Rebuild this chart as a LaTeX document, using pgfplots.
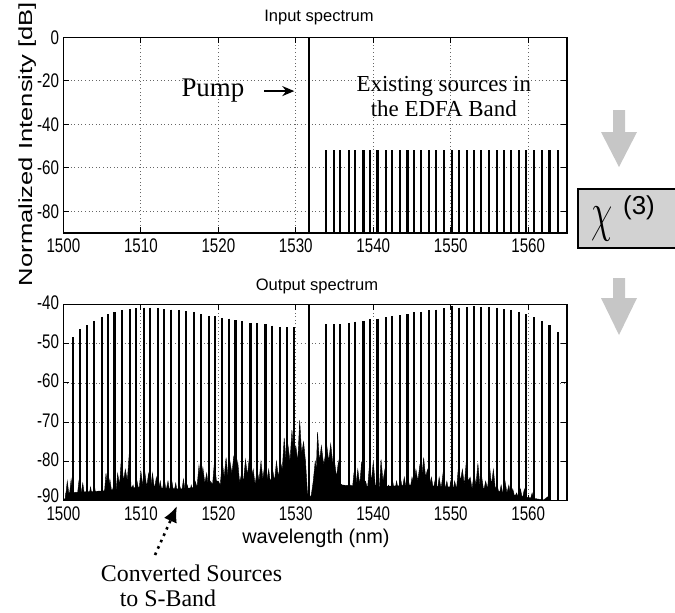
\documentclass[border=0pt]{standalone}
\usepackage{fontspec}
\setmainfont{Liberation Serif}
\newfontfamily\arial{Liberation Sans}
\usepackage{graphicx}
\usepackage{pgfplots}
\usepackage{pgfplotstable}
\pgfplotsset{compat=1.18}
\usetikzlibrary{arrows.meta}

% input spectrum: WDM sources in the EDFA band
\pgfplotstableread{
x y
1533.86 -52
1534.89 -52
1535.67 -52
1536.87 -52
1537.65 -52
1538.73 -52
1539.55 -52
1540.54 -52
1541.62 -52
1542.39 -52
1543.47 -52
1544.42 -52
1545.20 -52
1546.15 -52
1547.22 -52
1548.09 -52
1549.08 -52
1550.12 -52
1551.10 -52
1552.10 -52
1553.04 -52
1553.91 -52
1554.98 -52
1555.94 -52
1556.84 -52
1557.79 -52
1558.86 -52
1559.73 -52
1560.80 -52
1561.76 -52
1562.74 -52
1563.83 -52
}\insig

% output spectrum: converted sources (S-band)
\pgfplotstableread{
x y
1501.21 -48.4
1502.16 -46.3
1503.02 -45.3
1503.97 -44.2
1504.96 -43.1
1505.74 -42.5
1506.60 -42.0
1507.55 -41.4
1508.63 -41.2
1509.40 -41.0
1510.35 -40.8
1511.22 -40.8
1512.16 -41.0
1513.03 -41.2
1513.93 -41.3
1514.88 -41.4
1515.87 -41.7
1516.82 -41.9
1517.81 -42.5
1518.76 -42.9
1519.54 -42.9
1520.49 -43.4
1521.35 -43.6
1522.21 -44.0
1523.07 -44.2
1524.15 -44.7
1525.02 -44.8
1526.09 -45.1
1526.96 -45.4
1527.95 -45.7
1528.81 -45.8
1529.76 -45.8
}\outidl

% output spectrum: original sources
\pgfplotstableread{
x y
1533.86 -45.0
1534.89 -45.0
1535.67 -45.0
1536.87 -44.7
1537.65 -44.4
1538.73 -44.2
1539.55 -43.8
1540.54 -43.6
1541.62 -43.3
1542.39 -42.9
1543.47 -42.7
1544.42 -42.5
1545.20 -42.0
1546.15 -41.9
1547.22 -41.5
1548.09 -41.3
1549.08 -41.0
1550.12 -40.3
1551.10 -40.8
1552.10 -40.6
1553.04 -40.4
1553.91 -40.6
1554.98 -40.6
1555.94 -40.8
1556.84 -41.2
1557.79 -41.4
1558.86 -41.9
1559.73 -42.5
1560.80 -43.3
1561.76 -44.2
1562.74 -45.3
1563.83 -47.0
}\outsig

\pgfplotsset{
  spec/.style={
    scale only axis, width=251.8bp,
    xmin=1500, xmax=1565, xtick={1500,1510,...,1560},
    grid=major,
    major grid style={black!60, dash pattern=on 0.5bp off 1.3bp, line width=0.4bp},
    axis line style={line width=0.6bp},
    every tick/.style={black, line width=0.5bp},
    major tick length=3bp,
    tick label style={font=\arial\fontsize{7.6}{8}\selectfont},
    /pgf/number format/1000 sep={},
    /pgf/number format/assume math mode=true,
    xticklabel={\scalebox{1}[1.3]{\pgfmathprintnumber{\tick}}},
    yticklabel={\scalebox{1}[1.3]{\pgfmathprintnumber{\tick}}},
    xticklabel style={anchor=north, inner sep=0pt, yshift=-2.5bp},
    yticklabel style={anchor=east, inner sep=0pt, xshift=-2bp},
    clip=true,
  },
  comb/.style={draw=none, no markers,
    error bars/.cd, y dir=minus, y fixed=100, error mark=none,
    error bar style={draw=black, line width=1.05bp, solid}},
}

\begin{document}
\begin{tikzpicture}
\useasboundingbox (0,0) rectangle (337.5bp,-306.5bp);

% ---------- input spectrum ----------
\begin{axis}[spec, at={(31.7bp,-116.5bp)}, anchor=south west,
  height=97.8bp, ymin=-90, ymax=0, ytick={-80,-60,-40,-20,0}]
\addplot[comb] coordinates {(1531.75,0)};
\addplot[comb] table[x=x,y=y] {\insig};
\node[font=\fontsize{13.5}{14}\selectfont, anchor=base] at (axis cs:1519.3,-27) {Pump};
\draw[line width=0.8bp, -{Stealth[length=6bp,width=5bp]}] (axis cs:1525.9,-24.7) -- (axis cs:1529.8,-24.7);
\node[font=\fontsize{11.5}{12}\selectfont, anchor=base] at (axis cs:1549.1,-24.7) {Existing sources in};
\node[font=\fontsize{11.5}{12}\selectfont, anchor=base] at (axis cs:1549.1,-36.3) {the EDFA Band};
\end{axis}

% ---------- output spectrum ----------
\begin{axis}[spec, at={(31.7bp,-250.4bp)}, anchor=south west,
  height=98.2bp, ymin=-90, ymax=-40, ytick={-90,-80,...,-40},
  yticklabels={{\scalebox{1}[1.3]{\raisebox{2.5bp}{-90}}},
               {\scalebox{1}[1.3]{-80}},{\scalebox{1}[1.3]{-70}},
               {\scalebox{1}[1.3]{-60}},{\scalebox{1}[1.3]{-50}},
               {\scalebox{1}[1.3]{-40}}},
  yticklabel style={yshift=1bp},
  xticklabel style={yshift=-0.5bp}]
% dense noise floor
\addplot[fill=black, draw=black, line width=0.2bp] coordinates {
(1500.3,-95)(1500.3,-88)(1505,-87.5)(1510,-86.5)(1515,-87)(1520,-86)(1525,-85.5)(1528,-84)
(1531,-82)(1531.4,-89)(1532.2,-89)(1533,-82)(1536,-86)(1540,-86.5)(1545,-86)(1550,-86.5)
(1555,-87)(1558,-88.5)(1561,-89.5)(1563,-90)(1563,-95)
} -- cycle;
% noise spikes
\addplot[fill=black, draw=black, line width=0.2bp] coordinates {
(1500.0,-95)(1500.0,-89.5)(1500.25,-89.5)(1500.5,-85)(1500.75,-89)(1501.0,-84.5)(1501.25,-89)(1501.5,-88)(1501.75,-89.5)
(1502.0,-85)(1502.25,-88.5)(1502.5,-85.5)(1502.75,-89)(1503.0,-87)(1503.25,-89.5)(1503.5,-86.5)(1503.75,-89)
(1504.0,-86)(1504.25,-89.5)(1504.5,-88.5)(1504.75,-89.5)(1505.0,-87)(1505.25,-89)(1505.5,-83)(1505.75,-87.5)
(1506.0,-84.5)(1506.25,-88)(1506.5,-86)(1506.75,-88.5)(1507.0,-83)(1507.25,-86)(1507.5,-78.5)(1507.75,-85)
(1508.0,-82)(1508.25,-85)(1508.5,-78)(1508.75,-87)(1509.0,-86)(1509.25,-89)(1509.5,-85)(1509.75,-87.5)
(1510.0,-82.5)(1510.25,-86)(1510.5,-82.5)(1510.75,-86.5)(1511.0,-83)(1511.25,-87)(1511.5,-83)(1511.75,-87)
(1512.0,-84)(1512.25,-87.5)(1512.5,-85)(1512.75,-88)(1513.0,-84)(1513.25,-87.5)(1513.5,-85)(1513.75,-88)
(1514.0,-85)(1514.25,-88)(1514.5,-85.5)(1514.75,-88.5)(1515.0,-86)(1515.25,-88)(1515.5,-84.5)(1515.75,-88)
(1516.0,-86)(1516.25,-88.5)(1516.5,-86)(1516.75,-88)(1517.0,-85)(1517.25,-86.5)(1517.5,-81)(1517.75,-85)
(1518.0,-81.5)(1518.25,-85.5)(1518.5,-83)(1518.75,-87)(1519.0,-85)(1519.25,-86)(1519.5,-80)(1519.75,-85)
(1520.0,-85)(1520.25,-86)(1520.5,-80)(1520.75,-84)(1521.0,-79)(1521.25,-84)(1521.5,-80)(1521.75,-83)
(1522.0,-78.5)(1522.25,-84)(1522.5,-80)(1522.75,-85.5)(1523.0,-83)(1523.25,-85)(1523.5,-79.5)(1523.75,-83.5)
(1524.0,-79)(1524.25,-84)(1524.5,-82)(1524.75,-86)(1525.0,-82)(1525.25,-85)(1525.5,-80)(1525.75,-84.5)
(1526.0,-80.5)(1526.25,-85)(1526.5,-82)(1526.75,-86)(1527.0,-82)(1527.25,-85)(1527.5,-80)(1527.75,-84)
(1528.0,-80)(1528.25,-82)(1528.5,-74)(1528.75,-80)(1529.0,-76)(1529.25,-80)(1529.5,-72)(1529.75,-79)
(1530.0,-76)(1530.25,-80)(1530.5,-69.5)(1530.75,-78)(1531.0,-75)(1531.25,-80)(1531.5,-88)(1531.75,-89.5)
(1532.0,-88.5)(1532.25,-85)(1532.5,-80)(1532.65,-82)(1532.8,-72.5)(1533.05,-80)(1533.3,-76)(1533.6,-81)
(1534.0,-76)(1534.25,-80)(1534.5,-75.5)(1534.75,-80)(1535.0,-80)(1535.25,-84)(1535.5,-80)(1535.75,-86)
(1536.0,-86)(1536.25,-89)(1536.5,-88)(1536.75,-89)(1537.0,-86)(1537.25,-88)(1537.5,-83)(1537.75,-86)
(1538.0,-82)(1538.25,-86)(1538.5,-80)(1538.75,-85)(1539.0,-85)(1539.25,-87)(1539.5,-81)(1539.75,-85)
(1540.0,-80)(1540.25,-86)(1540.5,-86)(1540.75,-88)(1541.0,-79.5)(1541.25,-85)(1541.5,-82)(1541.75,-86.5)
(1542.0,-86)(1542.25,-88)(1542.5,-85)(1542.75,-88)(1543.0,-85)(1543.25,-87.5)(1543.5,-84)(1543.75,-87)
(1544.0,-84)(1544.25,-87)(1544.5,-84.5)(1544.75,-87)(1545.0,-84)(1545.25,-86)(1545.5,-82)(1545.75,-85)
(1546.0,-81)(1546.25,-84)(1546.5,-79)(1546.75,-84)(1547.0,-82)(1547.25,-86)(1547.5,-84)(1547.75,-87)
(1548.0,-84.5)(1548.25,-87.5)(1548.5,-84)(1548.75,-87)(1549.0,-83)(1549.25,-87)(1549.5,-85)(1549.75,-88)
(1550.0,-85)(1550.25,-88)(1550.5,-85)(1550.75,-87)(1551.0,-81)(1551.25,-85)(1551.5,-82)(1551.75,-86)
(1552.0,-80)(1552.25,-85)(1552.5,-84)(1552.75,-87)(1553.0,-83)(1553.25,-86)(1553.5,-80.5)(1553.75,-86)
(1554.0,-84)(1554.25,-87.5)(1554.5,-85)(1554.75,-87)(1555.0,-81)(1555.25,-86)(1555.5,-82)(1555.75,-87)
(1556.0,-86)(1556.25,-88.5)(1556.5,-86)(1556.75,-88.5)(1557.0,-85)(1557.25,-88)(1557.5,-86)(1557.75,-89)
(1558.0,-87)(1558.25,-89)(1558.5,-88)(1558.75,-89.5)(1559.0,-87)(1559.25,-89.5)(1559.5,-87)(1559.75,-89.5)
(1560.0,-89.5)(1560.25,-89.8)(1560.5,-88)(1560.75,-89.8)(1561.0,-89.5)(1561.5,-89.8)(1562.0,-89.8)(1562.5,-89)
(1562.75,-89.8)(1563.0,-90)(1563.0,-95)
} -- cycle;
\addplot[comb] coordinates {(1531.75,0)};
\addplot[comb] table[x=x,y=y] {\outidl};
\addplot[comb] table[x=x,y=y] {\outsig};
\end{axis}

% ---------- titles and labels ----------
\node[font=\arial\fontsize{8.3}{9}\selectfont] at (159.5bp,-8.75bp) {Input spectrum};
\node[font=\arial\fontsize{8.3}{9}\selectfont] at (158.5bp,-143bp) {Output spectrum};
\node[font=\arial\fontsize{9.5}{10}\selectfont, rotate=90, anchor=base] at (16bp,-72bp)
  {\scalebox{1.35}[1]{Normalized Intensity [dB]}};
\node[font=\arial\fontsize{10}{11}\selectfont] at (158bp,-269bp) {wavelength (nm)};

% ---------- annotation ----------
\node[font=\fontsize{12}{13}\selectfont, anchor=base] at (95.75bp,-290.85bp) {Converted Sources};
\node[font=\fontsize{12}{13}\selectfont, anchor=base] at (84bp,-303.35bp) {to S-Band};
\draw[line width=1.3bp, dash pattern=on 1.3bp off 2.2bp, -{Latex[length=8bp,width=7bp]}]
  (77.5bp,-277.5bp) -- (88.5bp,-253bp);

% ---------- chi(3) box and gray arrows ----------
\fill[gray!45] (306.5bp,-55bp) -- (312.5bp,-55bp) -- (312.5bp,-66bp) -- (318.5bp,-66bp)
  -- (309.5bp,-83.5bp) -- (300.5bp,-66bp) -- (306.5bp,-66bp) -- cycle;
\fill[gray!45] (306.5bp,-139bp) -- (312.5bp,-139bp) -- (312.5bp,-149bp) -- (318.5bp,-149bp)
  -- (309.5bp,-167.5bp) -- (300.5bp,-149bp) -- (306.5bp,-149bp) -- cycle;
\draw[fill=gray!35, line width=0.6bp] (289bp,-94.5bp) rectangle (340bp,-124bp);
\node[font=\fontsize{17}{17}\selectfont] at (300.8bp,-111.9bp) {\scalebox{1}[1.6]{$\chi$}};
\node[font=\arial\fontsize{13}{13}\selectfont] at (319.5bp,-103.75bp) {(3)};
\end{tikzpicture}
\end{document}
